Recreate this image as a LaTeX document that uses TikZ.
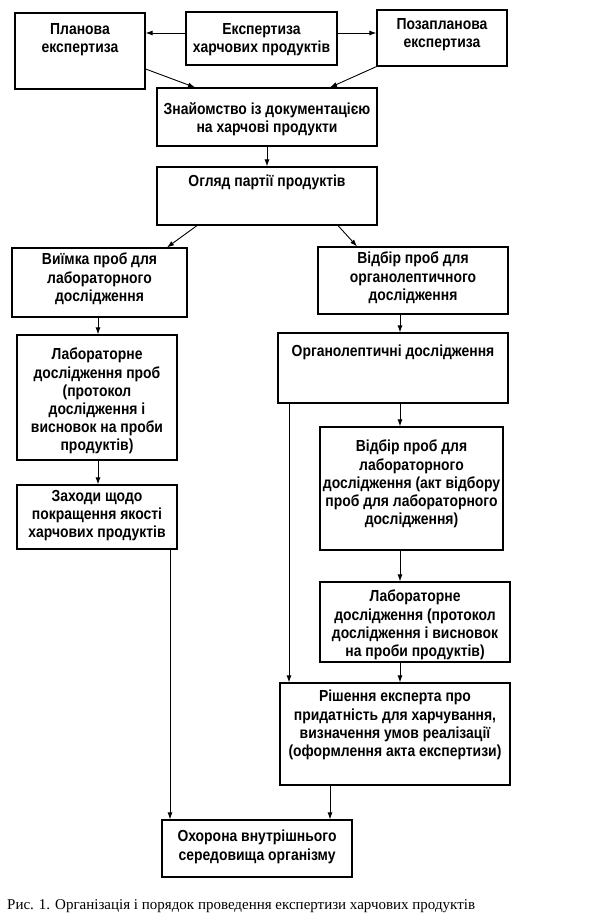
\documentclass[tikz,border=0pt]{standalone}
\usepackage{fontspec}
\setmainfont{Liberation Sans}
\newfontfamily\boxfont{Liberation Sans}[FakeStretch=0.87]
\newfontfamily\capfont{Liberation Serif}
\usetikzlibrary{arrows.meta}
\begin{document}
\begin{tikzpicture}[x=1pt,y=-1pt,
  box/.style={draw, line width=1.2pt, inner sep=0pt},
  lbl/.style={font=\boxfont\bfseries\fontsize{16}{18.2}\selectfont, align=center, inner sep=0pt, anchor=north, yshift=-1.5pt},
  arr/.style={line width=0.9pt, -{Latex[length=7pt,width=5pt]}}]
\useasboundingbox (0,0) rectangle (600,923);
\fill[white] (0,0) rectangle (600,923);
% boxes
\node[box, minimum width=130pt, minimum height=76pt] (plan) at (80,51) {};
\node[box, minimum width=151pt, minimum height=53pt] (exp) at (261.5,38.5) {};
\node[box, minimum width=130pt, minimum height=56pt] (poza) at (442,38) {};
\node[box, minimum width=220pt, minimum height=58pt] (znay) at (267,117) {};
\node[box, minimum width=220pt, minimum height=58pt] (ohlyad) at (267,196) {};
\node[box, minimum width=175pt, minimum height=69pt] (vyimka) at (99.5,282.5) {};
\node[box, minimum width=190pt, minimum height=67pt] (vidbir1) at (413,280.5) {};
\node[box, minimum width=160pt, minimum height=125pt] (lab1) at (97,397.5) {};
\node[box, minimum width=160pt, minimum height=64pt] (zahody) at (97,517) {};
\node[box, minimum width=230pt, minimum height=70pt] (organo) at (393,368) {};
\node[box, minimum width=183pt, minimum height=123pt] (vidbir2) at (411.5,488.5) {};
\node[box, minimum width=190pt, minimum height=80pt] (lab2) at (415,622) {};
\node[box, minimum width=230pt, minimum height=102pt] (rish) at (395,734) {};
\node[box, minimum width=190pt, minimum height=57pt] (ohor) at (257,848.5) {};
% texts
\node[lbl] (planT) at (80,21.5) {Планова\\експертиза};
\node[lbl] (expT) at (261.5,21.5) {Експертиза\\харчових продуктів};
\node[lbl] (pozaT) at (442,16.5) {Позапланова\\експертиза};
\node[lbl] (znayT) at (267,100.5) {Знайомство із документацією\\на харчові продукти};
\node[lbl] (ohlyadT) at (267,173.5) {Огляд партії продуктів};
\node[lbl] (vyimkaT) at (99.5,251.5) {Виїмка проб для\\лабораторного\\дослідження};
\node[lbl] (vidbir1T) at (413,250.5) {Відбір проб для\\органолептичного\\дослідження};
\node[lbl] (lab1T) at (97,346.5) {Лабораторне\\дослідження проб\\(протокол\\дослідження і\\висновок на проби\\продуктів)};
\node[lbl] (zahodyT) at (97,488.5) {Заходи щодо\\покращення якості\\харчових продуктів};
\node[lbl] (organoT) at (393,343.5) {Органолептичні дослідження};
\node[lbl] (vidbir2T) at (411.5,438.5) {Відбір проб для\\лабораторного\\дослідження (акт відбору\\проб для лабораторного\\дослідження)};
\node[lbl] (lab2T) at (415,588.5) {Лабораторне\\дослідження (протокол\\дослідження і висновок\\на проби продуктів)};
\node[lbl] (rishT) at (395,688.5) {Рішення експерта про\\придатність для харчування,\\визначення умов реалізації\\(оформлення акта експертизи)};
\node[lbl] (ohorT) at (257,828.5) {Охорона внутрішнього\\середовища організму};
% caption
\node[font=\capfont\fontsize{15}{18}\selectfont, anchor=base west, inner sep=0pt] (cap) at (7,909) {Рис. 1. Організація і порядок проведення експертизи харчових продуктів};
% connectors
\draw[arr] (exp.west |- 0,33) -- (plan.east |- 0,33);
\draw[arr] (exp.east |- 0,33) -- (poza.west |- 0,33);
\draw[arr] (plan.east |- 0,69) -- (znay.north -| 195,0);
\draw[arr] (poza.south west) -- (znay.north -| 330,0);
\draw[arr] (znay.south) -- (ohlyad.north);
\draw[arr] (ohlyad.south -| 197,0) -- (vyimka.north -| 167,0);
\draw[arr] (ohlyad.south -| 338,0) -- (vidbir1.north -| 357,0);
\draw[arr] (vyimka.south -| 98,0) -- (lab1.north -| 98,0);
\draw[arr] (vidbir1.south -| 400,0) -- (organo.north -| 400,0);
\draw[arr] (lab1.south -| 98,0) -- (zahody.north -| 98,0);
\draw[arr] (organo.south -| 400,0) -- (vidbir2.north -| 400,0);
\draw[arr] (organo.south -| 289,0) -- (rish.north -| 289,0);
\draw[arr] (vidbir2.south -| 400,0) -- (lab2.north -| 400,0);
\draw[arr] (lab2.south -| 400,0) -- (rish.north -| 400,0);
\draw[arr] (zahody.south -| 170,0) -- (ohor.north -| 170,0);
\draw[arr] (rish.south -| 330,0) -- (ohor.north -| 330,0);
\end{tikzpicture}
\end{document}
